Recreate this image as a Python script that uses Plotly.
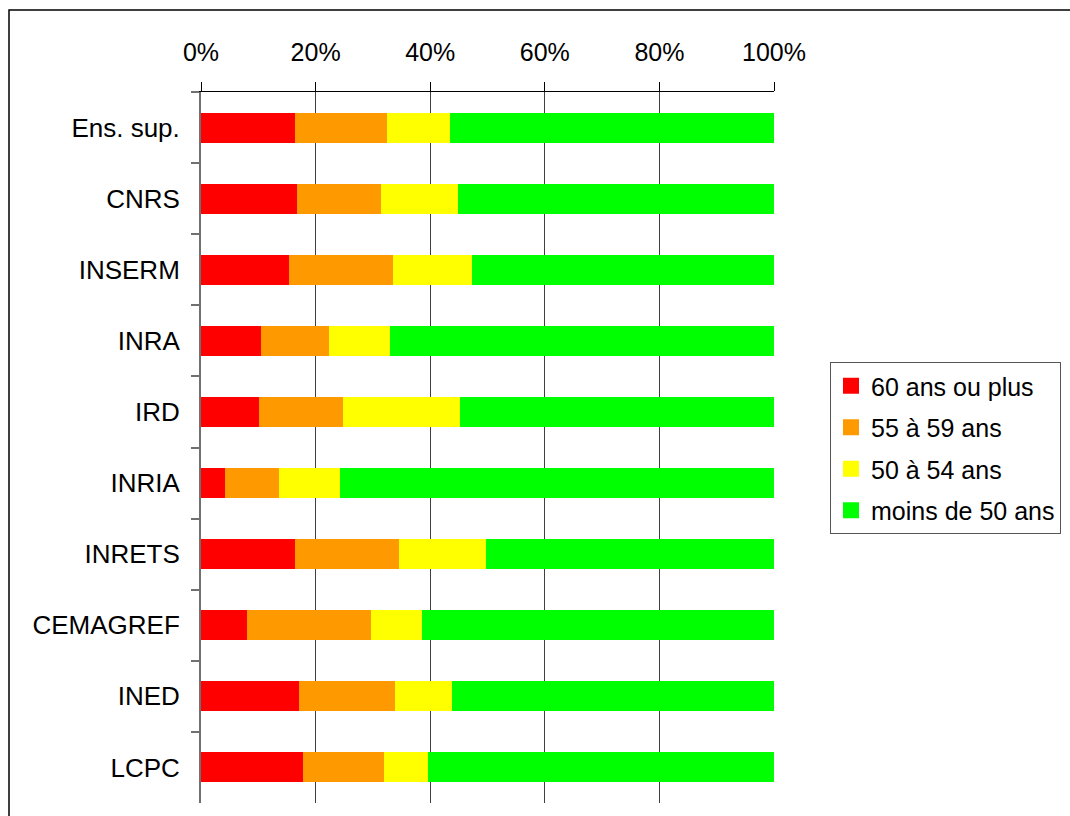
import plotly.graph_objects as go

categories = ["Ens. sup.", "CNRS", "INSERM", "INRA", "IRD", "INRIA", "INRETS", "CEMAGREF", "INED", "LCPC"]
s60_plus = [16.4, 16.7, 15.4, 10.5, 10.1, 4.2, 16.4, 8.0, 17.1, 17.8]
s55_59 = [16.0, 14.7, 18.1, 11.8, 14.7, 9.4, 18.1, 21.7, 16.7, 14.1]
s50_54 = [11.0, 13.4, 13.8, 10.7, 20.4, 10.6, 15.2, 8.8, 10.0, 7.7]
s_moins50 = [56.6, 55.2, 52.7, 67.0, 54.8, 75.8, 50.3, 61.5, 56.2, 60.4]

series_names = ["60 ans ou plus", "55 à 59 ans", "50 à 54 ans", "moins de 50 ans"]
series_values = [s60_plus, s55_59, s50_54, s_moins50]
colors = ["#FF0000", "#FF9900", "#FFFF00", "#00FF00"]
tick_vals = [0, 20, 40, 60, 80, 100]
tick_text = ["0%", "20%", "40%", "60%", "80%", "100%"]

FONT = "Liberation Sans, Arial, sans-serif"

fig = go.Figure()
for name, vals, col in zip(series_names, series_values, colors):
    fig.add_trace(go.Bar(
        y=categories, x=vals, orientation="h", name=name,
        marker=dict(color=col, line=dict(width=0)),
        showlegend=False, hoverinfo="x+y+name",
    ))
for i, (name, col) in enumerate(zip(series_names, colors)):
    fig.add_trace(go.Scatter(
        x=[None], y=[None], mode="markers", name=name,
        marker=dict(symbol="square", size=17, color=col),
        legendgroup="g%d" % i, showlegend=True,
    ))

W, H = 1070, 816
L, R, T, B = 201, 1070 - 774, 92, 816 - 803
pw = W - L - R
ph = H - T - B

fig.update_layout(
    width=W, height=H,
    margin=dict(l=L, r=R, t=T, b=B, pad=0),
    barmode="stack",
    bargap=0.577,
    paper_bgcolor="white",
    plot_bgcolor="white",
    font=dict(family=FONT, size=25, color="black"),
    xaxis=dict(
        side="top", range=[0, 100], tickvals=tick_vals, ticktext=tick_text,
        showgrid=True, gridcolor="#404040", gridwidth=1,
        showline=True, linecolor="black", linewidth=1,
        ticks="outside", ticklen=9, tickcolor="black", tickwidth=1,
        zeroline=False, ticklabelstandoff=11,
        tickfont=dict(family=FONT, size=25, color="black"),
        fixedrange=True,
    ),
    yaxis=dict(
        categoryorder="array", categoryarray=categories,
        range=[9.5, -0.5], autorange=False,
        showline=True, linecolor="#707070", linewidth=2,
        ticks="outside", tickson="boundaries", ticklen=8, tickcolor="#707070", tickwidth=2,
        showgrid=False, zeroline=False, ticklabelstandoff=14,
        tickfont=dict(family=FONT, size=26, color="black"),
        fixedrange=True,
    ),
    legend=dict(
        xref="container", yref="container",
        x=830 / W, y=1 - 362 / H, xanchor="left", yanchor="top",
        bordercolor="#555555", borderwidth=1, bgcolor="white",
        font=dict(family=FONT, size=25, color="black"),
        traceorder="grouped", tracegroupgap=6,
        itemsizing="trace",
    ),
    showlegend=True,
)

# outer chart border
def px_to_paper_x(px):
    return (px - L) / pw

def py_to_paper_y(py):
    return (H - B - py) / ph

fig.add_shape(
    type="rect", xref="paper", yref="paper",
    x0=px_to_paper_x(9), x1=px_to_paper_x(1100),
    y0=py_to_paper_y(840), y1=py_to_paper_y(10),
    line=dict(color="black", width=1.5), fillcolor="rgba(0,0,0,0)", layer="below",
)

fig.write_html("out.html")
